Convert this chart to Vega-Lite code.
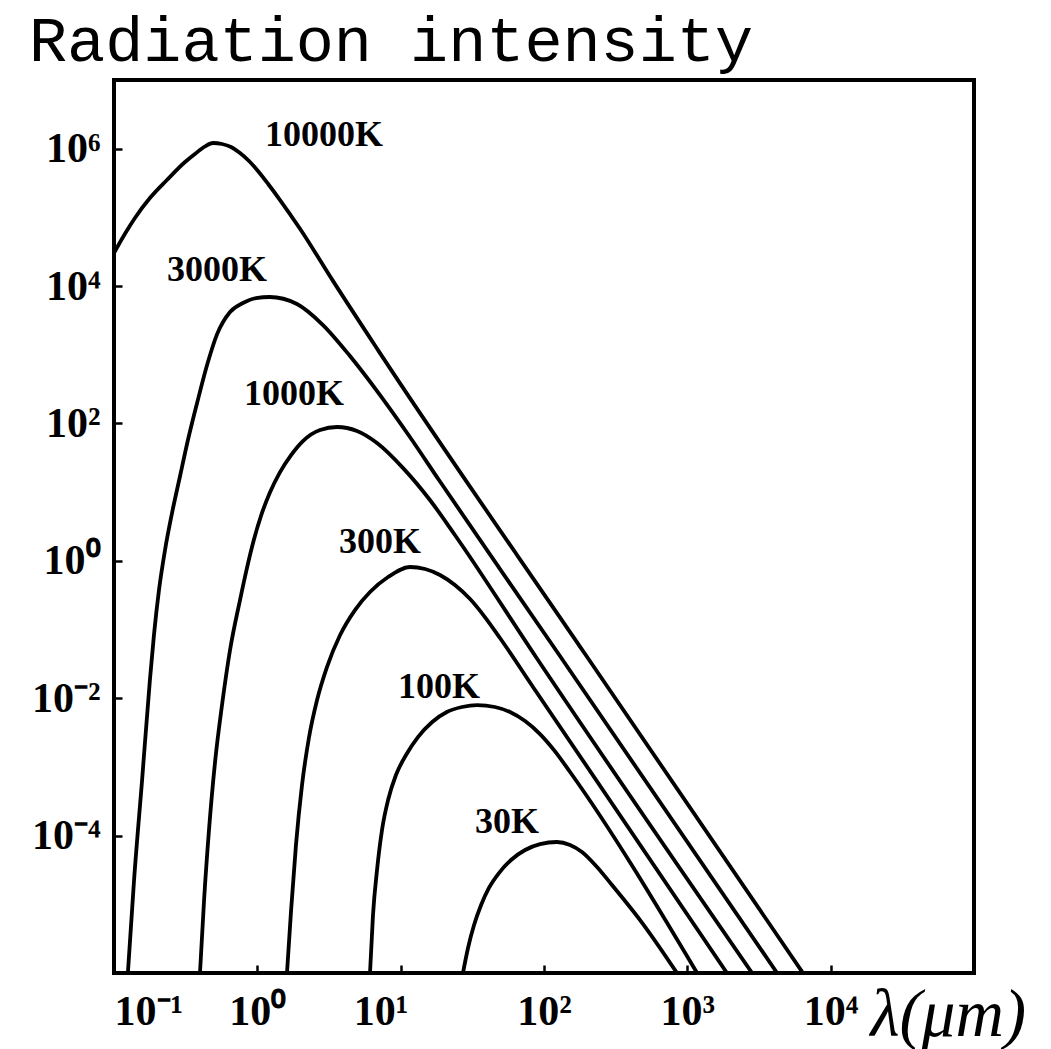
{
  "$schema": "https://vega.github.io/schema/vega-lite/v6.json",
  "width": 860,
  "height": 893,
  "autosize": {"type": "none"},
  "padding": {"left": 114, "top": 80, "right": 77, "bottom": 76},
  "background": "white",
  "config": {"view": {"stroke": "black", "strokeWidth": 4}},
  "title": {"text": "Radiation intensity", "anchor": "start", "frame": "group", "font": "Liberation Mono", "fontSize": 63.5, "fontWeight": "normal", "color": "black", "offset": 6, "dx": -85},
  "datasets": {
    "curves": [
      {"T": "10000K", "lambda": 0.1, "I": 30300},
      {"T": "10000K", "lambda": 0.119, "I": 57300},
      {"T": "10000K", "lambda": 0.14, "I": 98000},
      {"T": "10000K", "lambda": 0.178, "I": 191000},
      {"T": "10000K", "lambda": 0.234, "I": 350000},
      {"T": "10000K", "lambda": 0.313, "I": 640000},
      {"T": "10000K", "lambda": 0.367, "I": 838000},
      {"T": "10000K", "lambda": 0.432, "I": 1080000},
      {"T": "10000K", "lambda": 0.491, "I": 1210000},
      {"T": "10000K", "lambda": 0.567, "I": 1170000},
      {"T": "10000K", "lambda": 0.655, "I": 1060000},
      {"T": "10000K", "lambda": 0.757, "I": 865000},
      {"T": "10000K", "lambda": 0.875, "I": 662000},
      {"T": "10000K", "lambda": 1.01, "I": 473000},
      {"T": "10000K", "lambda": 1.19, "I": 306000},
      {"T": "10000K", "lambda": 1.44, "I": 179000},
      {"T": "10000K", "lambda": 1.99, "I": 67800},
      {"T": "10000K", "lambda": 3.37, "I": 11900},
      {"T": "10000K", "lambda": 6.95, "I": 1170},
      {"T": "10000K", "lambda": 200, "I": 0.0398},
      {"T": "10000K", "lambda": 6410, "I": 0.000001},
      {"T": "3000K", "lambda": 0.125, "I": 0.000001},
      {"T": "3000K", "lambda": 0.138, "I": 0.0000225},
      {"T": "3000K", "lambda": 0.157, "I": 0.000644},
      {"T": "3000K", "lambda": 0.178, "I": 0.0184},
      {"T": "3000K", "lambda": 0.19, "I": 0.0832},
      {"T": "3000K", "lambda": 0.206, "I": 0.376},
      {"T": "3000K", "lambda": 0.227, "I": 1.44},
      {"T": "3000K", "lambda": 0.254, "I": 4.97},
      {"T": "3000K", "lambda": 0.289, "I": 17.2},
      {"T": "3000K", "lambda": 0.328, "I": 57.4},
      {"T": "3000K", "lambda": 0.38, "I": 199},
      {"T": "3000K", "lambda": 0.446, "I": 710},
      {"T": "3000K", "lambda": 0.524, "I": 2000},
      {"T": "3000K", "lambda": 0.645, "I": 4200},
      {"T": "3000K", "lambda": 0.794, "I": 5670},
      {"T": "3000K", "lambda": 0.979, "I": 6700},
      {"T": "3000K", "lambda": 1.22, "I": 6930},
      {"T": "3000K", "lambda": 1.89, "I": 5480},
      {"T": "3000K", "lambda": 2.87, "I": 2710},
      {"T": "3000K", "lambda": 4.43, "I": 959},
      {"T": "3000K", "lambda": 7.18, "I": 259},
      {"T": "3000K", "lambda": 11.6, "I": 63.5},
      {"T": "3000K", "lambda": 18.5, "I": 15},
      {"T": "3000K", "lambda": 125, "I": 0.0455},
      {"T": "3000K", "lambda": 4230, "I": 0.000001},
      {"T": "1000K", "lambda": 0.398, "I": 0.000001},
      {"T": "1000K", "lambda": 0.425, "I": 0.0000115},
      {"T": "1000K", "lambda": 0.46, "I": 0.000121},
      {"T": "1000K", "lambda": 0.507, "I": 0.00118},
      {"T": "1000K", "lambda": 0.567, "I": 0.00796},
      {"T": "1000K", "lambda": 0.645, "I": 0.0504},
      {"T": "1000K", "lambda": 0.757, "I": 0.269},
      {"T": "1000K", "lambda": 0.834, "I": 0.687},
      {"T": "1000K", "lambda": 0.933, "I": 1.82},
      {"T": "1000K", "lambda": 1.06, "I": 4.5},
      {"T": "1000K", "lambda": 1.22, "I": 9.72},
      {"T": "1000K", "lambda": 1.44, "I": 19.6},
      {"T": "1000K", "lambda": 1.72, "I": 34.7},
      {"T": "1000K", "lambda": 2.08, "I": 55.5},
      {"T": "1000K", "lambda": 2.74, "I": 80.4},
      {"T": "1000K", "lambda": 3.6, "I": 88.8},
      {"T": "1000K", "lambda": 4.96, "I": 77.6},
      {"T": "1000K", "lambda": 6.84, "I": 51.9},
      {"T": "1000K", "lambda": 10.4, "I": 22.4},
      {"T": "1000K", "lambda": 16, "I": 7.69},
      {"T": "1000K", "lambda": 23.9, "I": 2.38},
      {"T": "1000K", "lambda": 87.9, "I": 0.0398},
      {"T": "1000K", "lambda": 2830, "I": 0.000001},
      {"T": "300K", "lambda": 1.61, "I": 0.000001},
      {"T": "300K", "lambda": 1.72, "I": 0.00000826},
      {"T": "300K", "lambda": 1.86, "I": 0.000073},
      {"T": "300K", "lambda": 2.05, "I": 0.000545},
      {"T": "300K", "lambda": 2.29, "I": 0.00264},
      {"T": "300K", "lambda": 2.61, "I": 0.00942},
      {"T": "300K", "lambda": 3.06, "I": 0.0284},
      {"T": "300K", "lambda": 3.78, "I": 0.0832},
      {"T": "300K", "lambda": 4.8, "I": 0.192},
      {"T": "300K", "lambda": 6.11, "I": 0.352},
      {"T": "300K", "lambda": 8.17, "I": 0.582},
      {"T": "300K", "lambda": 11.6, "I": 0.813},
      {"T": "300K", "lambda": 14.8, "I": 0.76},
      {"T": "300K", "lambda": 18.8, "I": 0.622},
      {"T": "300K", "lambda": 23.9, "I": 0.445},
      {"T": "300K", "lambda": 30.5, "I": 0.278},
      {"T": "300K", "lambda": 38.7, "I": 0.152},
      {"T": "300K", "lambda": 49.3, "I": 0.0753},
      {"T": "300K", "lambda": 83.8, "I": 0.0146},
      {"T": "300K", "lambda": 1890, "I": 0.000001},
      {"T": "100K", "lambda": 6.11, "I": 0.000001},
      {"T": "100K", "lambda": 6.41, "I": 0.00000698},
      {"T": "100K", "lambda": 6.84, "I": 0.0000316},
      {"T": "100K", "lambda": 7.41, "I": 0.000121},
      {"T": "100K", "lambda": 8.17, "I": 0.00033},
      {"T": "100K", "lambda": 9.27, "I": 0.000762},
      {"T": "100K", "lambda": 10.9, "I": 0.00149},
      {"T": "100K", "lambda": 13.2, "I": 0.00272},
      {"T": "100K", "lambda": 16.6, "I": 0.00451},
      {"T": "100K", "lambda": 21, "I": 0.0063},
      {"T": "100K", "lambda": 26.8, "I": 0.00745},
      {"T": "100K", "lambda": 34.1, "I": 0.00796},
      {"T": "100K", "lambda": 45.5, "I": 0.00745},
      {"T": "100K", "lambda": 57.9, "I": 0.0063},
      {"T": "100K", "lambda": 73.8, "I": 0.00466},
      {"T": "100K", "lambda": 93.8, "I": 0.00301},
      {"T": "100K", "lambda": 119, "I": 0.0017},
      {"T": "100K", "lambda": 152, "I": 0.000843},
      {"T": "100K", "lambda": 1170, "I": 0.000001},
      {"T": "30K", "lambda": 27.2, "I": 0.000001},
      {"T": "30K", "lambda": 29.5, "I": 0.00000231},
      {"T": "30K", "lambda": 32.5, "I": 0.00000499},
      {"T": "30K", "lambda": 36.4, "I": 0.00000977},
      {"T": "30K", "lambda": 41.3, "I": 0.0000173},
      {"T": "30K", "lambda": 48.5, "I": 0.0000285},
      {"T": "30K", "lambda": 58.9, "I": 0.0000442},
      {"T": "30K", "lambda": 73.8, "I": 0.0000617},
      {"T": "30K", "lambda": 93.8, "I": 0.000075},
      {"T": "30K", "lambda": 123, "I": 0.0000807},
      {"T": "30K", "lambda": 152, "I": 0.000073},
      {"T": "30K", "lambda": 184, "I": 0.0000577},
      {"T": "30K", "lambda": 231, "I": 0.0000361},
      {"T": "30K", "lambda": 298, "I": 0.0000191},
      {"T": "30K", "lambda": 491, "I": 0.00000516},
      {"T": "30K", "lambda": 847, "I": 0.000001}
    ],
    "labels": [
      {"T": "10000K", "lambda": 2.92, "I": 1580000},
      {"T": "3000K", "lambda": 0.524, "I": 17100},
      {"T": "1000K", "lambda": 1.8, "I": 268},
      {"T": "300K", "lambda": 7.18, "I": 1.88},
      {"T": "100K", "lambda": 18.5, "I": 0.0146},
      {"T": "30K", "lambda": 55.2, "I": 0.000158}
    ]
  },
  "layer": [
    {
      "data": {"name": "curves"},
      "mark": {"type": "line", "interpolate": "monotone", "color": "black", "strokeWidth": 3.8, "clip": true},
      "encoding": {
        "x": {
          "field": "lambda", "type": "quantitative",
          "scale": {"type": "log", "domain": [0.1, 100000], "nice": false},
          "axis": {
            "values": [0.1, 1, 10, 100, 1000, 10000],
            "labelExpr": "datum.value < 0.5 ? '10⁻¹' : datum.value < 5 ? '10⁰' : datum.value < 50 ? '10¹' : datum.value < 500 ? '10²' : datum.value < 5000 ? '10³' : '10⁴'",
            "labelFont": "Liberation Serif", "labelFontSize": 42, "labelFontWeight": "bold", "labelColor": "black",
            "labelPadding": 26, "labelFlush": true,
            "labelOffset": {"condition": {"test": "datum.value > 5 && datum.value < 50", "value": -20}, "value": 0},
            "grid": false, "domain": false, "ticks": true, "tickSize": -8, "tickWidth": 2.5, "tickColor": "black",
            "title": "λ(μm)", "titleFont": "Liberation Serif", "titleFontStyle": "italic", "titleFontSize": 67, "titleFontWeight": "normal", "titleColor": "black",
            "titleX": 756, "titleY": 42, "titleAlign": "left", "titleBaseline": "middle"
          }
        },
        "y": {
          "field": "I", "type": "quantitative",
          "scale": {"type": "log", "domain": [0.000001, 10000000], "nice": false},
          "axis": {
            "values": [0.0001, 0.01, 1, 100, 10000, 1000000],
            "labelExpr": "datum.value < 0.001 ? '10⁻⁴' : datum.value < 0.1 ? '10⁻²' : datum.value < 10 ? '10⁰' : datum.value < 1000 ? '10²' : datum.value < 100000 ? '10⁴' : '10⁶'",
            "labelFont": "Liberation Serif", "labelFontSize": 42, "labelFontWeight": "bold", "labelColor": "black",
            "labelPadding": 22,
            "grid": false, "domain": false, "ticks": true, "tickSize": -8, "tickWidth": 2.5, "tickColor": "black",
            "title": null
          }
        },
        "detail": {"field": "T"}
      }
    },
    {
      "data": {"name": "labels"},
      "mark": {"type": "text", "font": "Liberation Serif", "fontWeight": "bold", "fontSize": 36, "color": "black", "align": "center", "baseline": "middle"},
      "encoding": {
        "x": {"field": "lambda", "type": "quantitative"},
        "y": {"field": "I", "type": "quantitative"},
        "text": {"field": "T"}
      }
    }
  ]
}
